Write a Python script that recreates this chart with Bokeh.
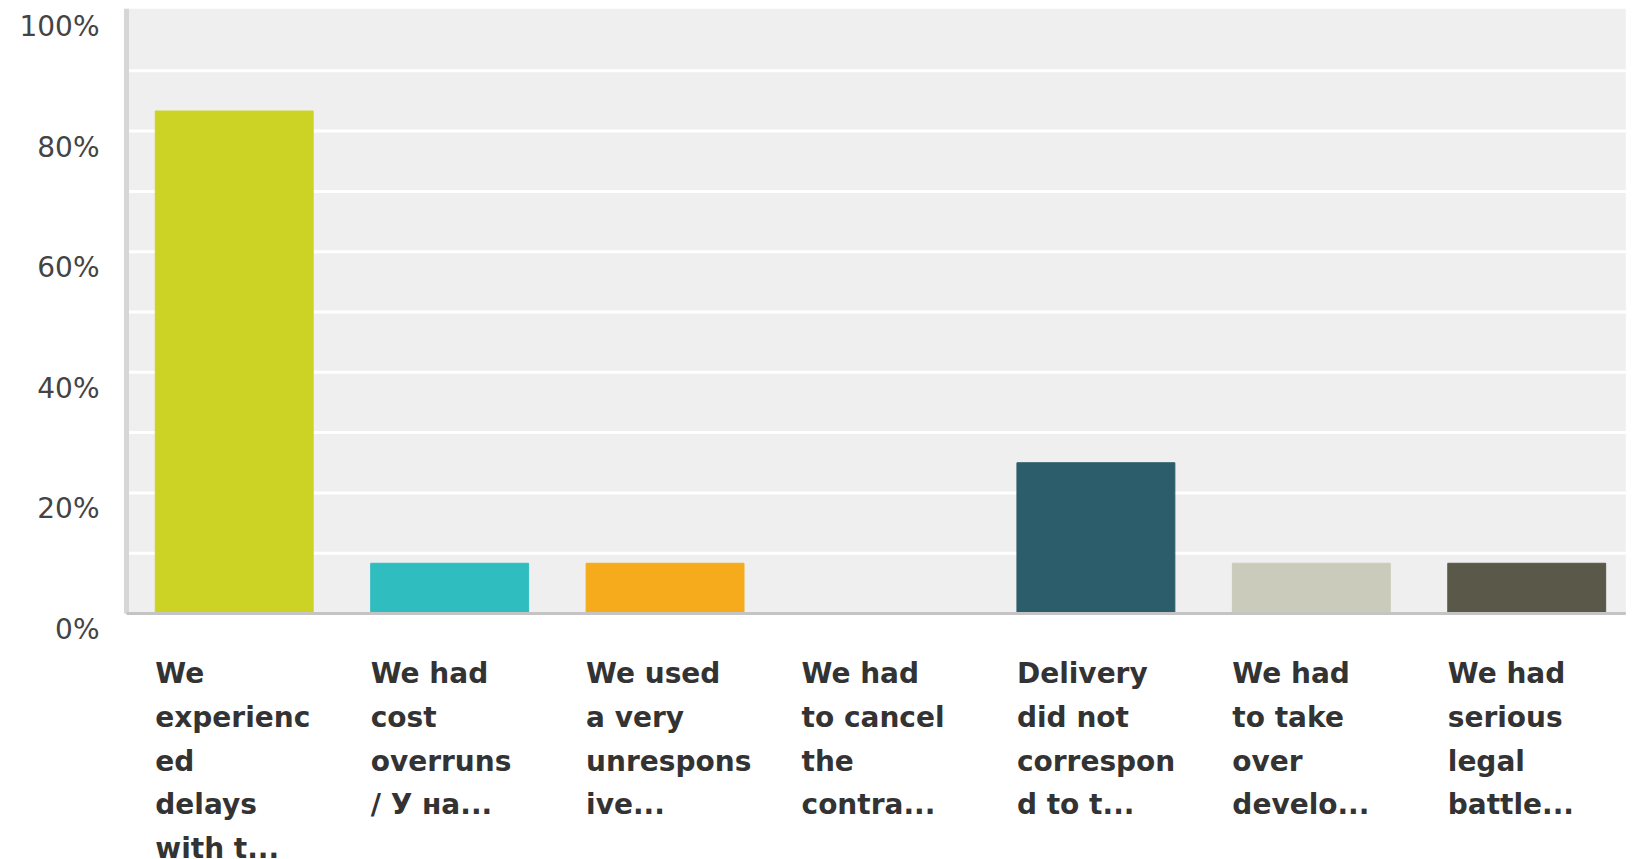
from bokeh.plotting import figure
from bokeh.models import ColumnDataSource, Range1d
from bokeh.core.properties import value
from bokeh.embed import file_html
from bokeh.resources import INLINE

# ---- data ----
categories = [
    "We\nexperienc\ned\ndelays\nwith t...",
    "We had\ncost\noverruns\n/ У на...",
    "We used\na very\nunrespons\nive...",
    "We had\nto cancel\nthe\ncontra...",
    "Delivery\ndid not\ncorrespon\nd to t...",
    "We had\nto take\nover\ndevelo...",
    "We had\nserious\nlegal\nbattle...",
]
percentages = [83.33, 8.33, 8.33, 0.0, 25.0, 8.33, 8.33]
bar_colors = ["#ccd324", "#30bdbf", "#f5ab1c", "#6d8ca4", "#2c5d6a", "#cbcbbb", "#5a5848"]
y_tick_values = [0, 20, 40, 60, 80, 100]
y_tick_labels = ["0%", "20%", "40%", "60%", "80%", "100%"]
grid_values = [10, 20, 30, 40, 50, 60, 70, 80, 90]

BAR_W = 0.733
AREA_LEFT, AREA_RIGHT = 0.0, 6.96
AREA_TOP = 100.3
n = len(categories)
xs = [i + 0.5 for i in range(n)]

p = figure(
    width=1632, height=859,
    x_range=Range1d(-0.585, 6.991), y_range=Range1d(-40.8, 101.66),
    output_backend="svg", toolbar_location=None,
    min_border=0,
)
p.axis.visible = False
p.grid.visible = False
p.outline_line_color = None
p.background_fill_color = "white"
p.border_fill_color = "white"

# plot-area background
p.quad(left=[AREA_LEFT], right=[AREA_RIGHT], bottom=[0], top=[AREA_TOP],
       fill_color="#efefef", line_color=None)
# white grid lines
p.segment(x0=[AREA_LEFT] * len(grid_values), x1=[AREA_RIGHT] * len(grid_values),
          y0=grid_values, y1=grid_values, line_color="white", line_width=3)

# bars
src = ColumnDataSource(dict(x=xs, top=percentages, color=bar_colors,
                            left=[x - BAR_W / 2 for x in xs], y0=[0] * n,
                            label=categories))
p.vbar(x="x", top="top", width=BAR_W, color="color", source=src)

# axis lines
p.segment(x0=[AREA_LEFT], x1=[AREA_LEFT], y0=[0], y1=[AREA_TOP],
          line_color="#d6d6d6", line_width=5)
p.segment(x0=[AREA_LEFT], x1=[AREA_RIGHT], y0=[0], y1=[0],
          line_color="#c4c4c4", line_width=3)

# category labels
p.text(x="left", y="y0", text="label", source=src,
       y_offset=44, text_align="left", text_baseline="top",
       text_font=value("DejaVu Sans"), text_font_style="bold",
       text_font_size="28px", text_color="#333333",
       text_line_height=1.32)

# y tick labels
ysrc = ColumnDataSource(dict(x=[AREA_LEFT] * len(y_tick_values), y=y_tick_values, t=y_tick_labels))
p.text(x="x", y="y", text="t", source=ysrc,
       x_offset=-27, y_offset=16, text_align="right", text_baseline="middle",
       text_font=value("DejaVu Sans"), text_font_size="28px",
       text_color="#444444")

open("out.html", "w").write(file_html(p, INLINE))
